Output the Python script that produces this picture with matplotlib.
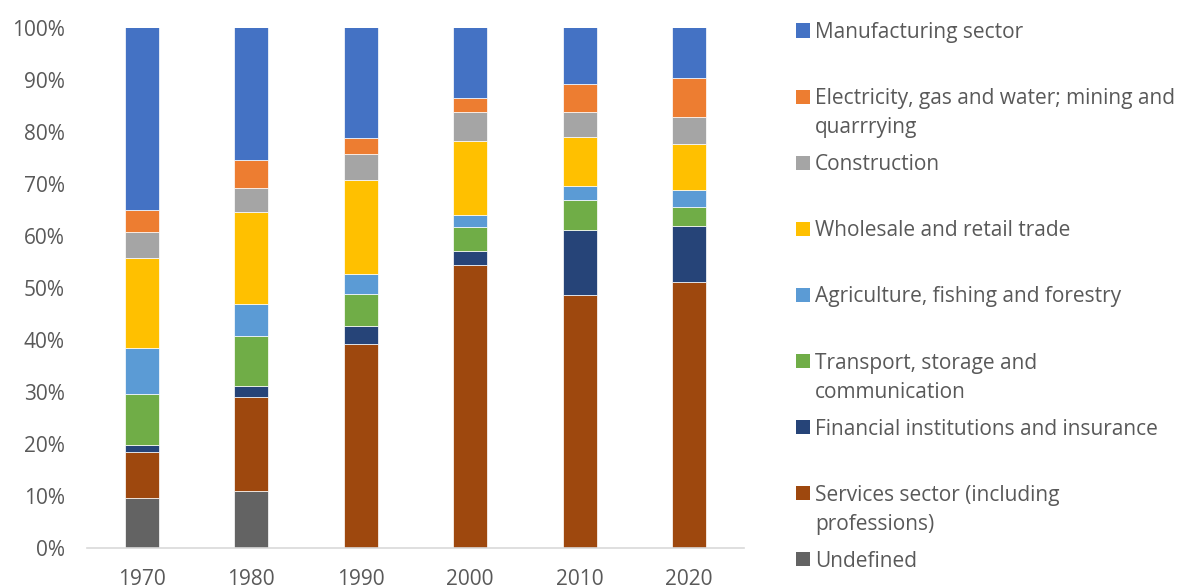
import matplotlib
matplotlib.use("Agg")
import matplotlib.pyplot as plt
import numpy as np
from matplotlib.patches import Rectangle
from matplotlib.ticker import PercentFormatter

years = ["1970", "1980", "1990", "2000", "2010", "2020"]

# stacked from bottom to top, shares in %
undefined = [9.5, 10.9, 0, 0, 0, 0]
services = [8.9, 18.0, 39.1, 54.3, 48.6, 51.0]
financial = [1.4, 2.2, 3.5, 2.8, 12.4, 10.9]
transport = [9.8, 9.5, 6.2, 4.5, 5.8, 3.5]
agriculture = [8.8, 6.2, 3.8, 2.4, 2.8, 3.4]
wholesale = [17.2, 17.7, 18.0, 14.2, 9.4, 8.9]
construction = [5.0, 4.6, 5.0, 5.5, 4.8, 5.0]
electricity = [4.4, 5.4, 3.1, 2.8, 5.3, 7.5]
manufacturing = [35.0, 25.5, 21.3, 13.5, 10.9, 9.8]

series = [
    ("Undefined", undefined, "#636363"),
    ("Services sector (including\nprofessions)", services, "#9E480E"),
    ("Financial institutions and insurance", financial, "#264478"),
    ("Transport, storage and\ncommunication", transport, "#70AD47"),
    ("Agriculture, fishing and forestry", agriculture, "#5B9BD5"),
    ("Wholesale and retail trade", wholesale, "#FFC000"),
    ("Construction", construction, "#A5A5A5"),
    ("Electricity, gas and water; mining and\nquarrrying", electricity, "#ED7D31"),
    ("Manufacturing sector", manufacturing, "#4472C4"),
]

txt = "#595959"
plt.rcParams["font.family"] = ["Open Sans", "DejaVu Sans"]

fig = plt.figure(figsize=(11.82, 5.88), dpi=100)
ax = fig.add_axes([87 / 1182, 40.3 / 588, 657 / 1182, 520.2 / 588])

x = np.arange(len(years))
bottom = np.zeros(len(years))
for name, vals, col in series:
    v = np.array(vals, dtype=float)
    ax.bar(x, v, 0.313, bottom=bottom, color=col, edgecolor="white", linewidth=0.5)
    bottom += v

ax.set_xlim(-0.5, len(years) - 0.5)
ax.set_ylim(0, 100)
ax.set_yticks(np.arange(0, 101, 10))
ax.yaxis.set_major_formatter(PercentFormatter(decimals=0))
ax.set_xticks(x)
ax.set_xticklabels(years)
ax.tick_params(axis="both", length=0, colors=txt, labelsize=15)
ax.tick_params(axis="y", pad=16)
ax.tick_params(axis="x", pad=15)
for s in ["top", "right", "left"]:
    ax.spines[s].set_visible(False)
ax.spines["bottom"].set_color("#D9D9D9")
ax.spines["bottom"].set_linewidth(1.2)

# legend, top entry first; square lines up with the first text line
W, H = 1182, 588
for i, (name, vals, col) in enumerate(reversed(series)):
    yc = 30.5 + 66.1 * i
    extra = 29 * name.count("\n")
    fig.add_artist(Rectangle((796 / W, 1 - (yc + 7) / H), 14 / W, 14 / H,
                             transform=fig.transFigure, color=col, lw=0))
    fig.text(815 / W, 1 - (yc + 7.5 + extra) / H, name, color=txt, fontsize=15,
             va="baseline", ha="left", linespacing=1.5)

fig.savefig("out.png", dpi=100)
